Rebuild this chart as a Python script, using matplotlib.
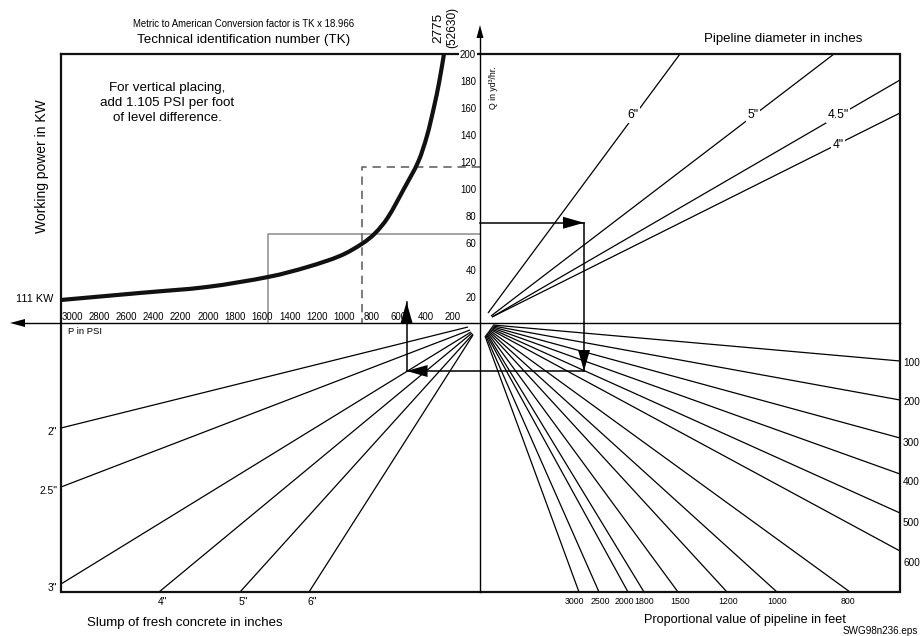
import numpy as np
import matplotlib
matplotlib.use("Agg")
import matplotlib.pyplot as plt
from matplotlib.path import Path
from matplotlib.patches import PathPatch

plt.rcParams["font.family"] = ["Liberation Sans", "DejaVu Sans"]

# ---------------------------------------------------------------- data
# Pressure scale (upper-left quadrant, horizontal)
p_ticks = [3000, 2800, 2600, 2400, 2200, 2000, 1800, 1600, 1400, 1200, 1000, 800, 600, 400, 200]
# Output scale (vertical)
q_ticks = [20, 40, 60, 80, 100, 120, 140, 160, 180, 200]

# Working-power curve (P in PSI, Q in yd3/hr)
curve_p = [3080, 2500, 2010, 1560, 1270, 1030, 870, 770, 675, 560, 455, 390, 340, 300, 265]
curve_q = [17.8, 23.0, 27.4, 34.8, 42.2, 50.4, 59.3, 67.4, 79.3, 100.0, 120.0, 139.3, 160.0, 179.3, 200.0]

# Reading guides in the power quadrant
guide_solid = (1560, 67)    # (P, Q)
guide_dashed = (868, 116)   # (P, Q)

# Worked example path: Q in, length, slump, P out
example_q = 75
example_p = 540

# Pipeline diameter lines (upper-right quadrant)
diam_labels = ['6"', '5"', '4.5"', '4"']
diam_start = [(488, 313), (491, 316), (492, 317), (492, 317)]
diam_end = [(680, 54), (834, 54), (900, 80), (900, 113)]
diam_label_pos = [(633, 115), (753, 115), (838, 115), (838, 145)]

# Pipeline length lines (lower-right quadrant)
len_right = [100, 200, 300, 400, 500, 600]
len_right_end_y = [361, 400, 438, 474, 513, 551]
len_right_label_y = [363, 402, 443, 482, 523, 563]
len_bottom = [800, 1000, 1200, 1500, 1800, 2000, 2500, 3000]
len_bottom_end_x = [850, 777, 727, 678, 644, 628, 599, 579]
len_bottom_label_x = [848, 777, 728, 680, 644, 624, 600, 574]

# Slump lines (lower-left quadrant)
slump_left = ['2"', '2.5"', '3"']
slump_left_end_y = [428, 487, 584]
slump_bottom = ['4"', '5"', '6"']
slump_bottom_end_x = [159, 240, 309]
slump_start = [(468, 327), (470, 330), (471, 332), (472, 333), (473, 334), (473, 335)]

# ---------------------------------------------------------------- layout
X0, X1, Y0, Y1 = 61, 900, 54, 592      # frame
AX_X, AX_Y = 480, 323                  # nomogram axes


def p_to_x(p):
    return AX_X - 0.136 * np.asarray(p, dtype=float)


def q_to_y(q):
    return 324 - 1.35 * np.asarray(q, dtype=float)


def smooth_path(xs, ys):
    """Catmull-Rom curve through the given points as cubic Bezier segments."""
    pts = np.column_stack([xs, ys])
    ext = np.vstack([pts[0], pts, pts[-1]])
    verts = [pts[0]]
    codes = [Path.MOVETO]
    for i in range(1, len(ext) - 2):
        p0, p1, p2, p3 = ext[i - 1], ext[i], ext[i + 1], ext[i + 2]
        verts += [p1 + (p2 - p0) / 6.0, p2 - (p3 - p1) / 6.0, p2]
        codes += [Path.CURVE4] * 3
    return Path(verts, codes)


fig = plt.figure(figsize=(9.24, 6.36), dpi=100)
ax = fig.add_axes([0, 0, 1, 1])
ax.set_xlim(0, 924)
ax.set_ylim(636, 0)
ax.axis("off")

FAN = dict(color="black", lw=0.9, solid_capstyle="butt")

# frame
ax.plot([X0, X1, X1, X0, X0], [Y0, Y0, Y1, Y1, Y0], color="#111", lw=1.6,
        solid_joinstyle="miter", zorder=3)

# central axes with arrows
ax.plot([AX_X, AX_X], [Y1, 36], color="black", lw=1.0, zorder=3)
ax.arrow(AX_X, 40, 0, -15, width=0.01, head_width=7, head_length=13,
         length_includes_head=True, color="black", lw=0, zorder=3)
ax.plot([X1, 22], [AX_Y, AX_Y], color="black", lw=1.0, zorder=3)
ax.arrow(26, AX_Y, -16, 0, width=0.01, head_width=8, head_length=15,
         length_includes_head=True, color="black", lw=0, zorder=3)

# P tick labels
for p in p_ticks:
    ax.text(p_to_x(p), 317, str(p), ha="center", va="center",
            fontsize=6.9, zorder=4)
ax.text(68, 331, "P in PSI", ha="left", va="center", fontsize=6.8)

# Q tick labels
for q in q_ticks:
    kw = {}
    if q == 200:
        kw["bbox"] = dict(boxstyle="square,pad=0.1", fc="white", ec="none")
    ax.text(476, q_to_y(q) + 1, str(q), ha="right", va="center",
            fontsize=6.9, zorder=5, **kw)
ax.text(493, 88, "Q in yd³/hr.", rotation=90, ha="center", va="center", fontsize=6.3)

# power curve
ax.add_patch(PathPatch(smooth_path(p_to_x(curve_p), q_to_y(curve_q)),
                       fc="none", ec="#111", lw=3.0, capstyle="butt", zorder=4))

# reading guides
gx, gy = p_to_x(guide_solid[0]), q_to_y(guide_solid[1])
ax.plot([AX_X, gx, gx], [gy, gy, AX_Y], color="#8c8c8c", lw=1.1, zorder=2)
dx, dy = p_to_x(guide_dashed[0]), q_to_y(guide_dashed[1])
ax.plot([AX_X, dx, dx], [dy, dy, AX_Y], color="#666", lw=1.2,
        dashes=(5, 3.5), zorder=2)

# diameter fan
for lab, s, e, lp in zip(diam_labels, diam_start, diam_end, diam_label_pos):
    ax.plot([s[0], e[0]], [s[1], e[1]], **FAN)
    ax.text(lp[0], lp[1], lab, ha="center", va="center", fontsize=8.7,
            bbox=dict(boxstyle="square,pad=0.15", fc="white", ec="none"), zorder=4)

# length fan
n_len = len(len_right) + len(len_bottom)
sx = np.linspace(493, 485, n_len)
sy = np.linspace(325, 336, n_len)
for i, (v, ey, ly) in enumerate(zip(len_right, len_right_end_y, len_right_label_y)):
    ax.plot([sx[i], X1], [sy[i], ey], **FAN)
    ax.text(903, ly, str(v), ha="left", va="center", fontsize=7.2)
for j, (v, ex, lx) in enumerate(zip(len_bottom, len_bottom_end_x, len_bottom_label_x)):
    k = len(len_right) + j
    ax.plot([sx[k], ex], [sy[k], Y1], **FAN)
    ax.text(lx, 602, str(v), ha="center", va="center", fontsize=6.3)

# slump fan
for i, (lab, ey) in enumerate(zip(slump_left, slump_left_end_y)):
    s = slump_start[i]
    ax.plot([s[0], X0], [s[1], ey], **FAN)
    ax.text(57, ey + 4, lab, ha="right", va="center", fontsize=7.4)
for j, (lab, ex) in enumerate(zip(slump_bottom, slump_bottom_end_x)):
    s = slump_start[len(slump_left) + j]
    ax.plot([s[0], ex], [s[1], Y1], **FAN)
    ax.text(ex + 3, 602, lab, ha="center", va="center", fontsize=7.4)

# worked example path with arrow heads at the end of each leg
qy = float(q_to_y(example_q))
px = float(p_to_x(example_p))
turn_x, turn_y, end_y = 584, 371, 302
path = [(AX_X, qy), (turn_x, qy), (turn_x, turn_y), (px, turn_y), (px, end_y)]
HEAD = 21
for (x0, y0), (x1, y1) in zip(path[:-1], path[1:]):
    ax.plot([x0, x1], [y0, y1], color="black", lw=1.1, zorder=3)
    L = np.hypot(x1 - x0, y1 - y0)
    ux, uy = (x1 - x0) / L, (y1 - y0) / L
    ax.arrow(x1 - ux * HEAD, y1 - uy * HEAD, ux * HEAD, uy * HEAD, width=0.01,
             head_width=12, head_length=HEAD, length_includes_head=True,
             color="black", lw=0, zorder=4)

# titles and notes
ax.text(244, 24, "Metric to American Conversion factor is TK x 18.966",
        ha="center", va="center", fontsize=6.9)
ax.text(244, 40, "Technical identification number (TK)", ha="center", va="center",
        fontsize=9.6)
ax.text(438, 28, "2775", rotation=90, ha="center", va="center", fontsize=9.7)
ax.text(452, 27, "(52630)", rotation=90, ha="center", va="center", fontsize=8.6)
ax.text(167, 103, "For vertical placing,\nadd 1.105 PSI per foot\nof level difference.",
        ha="center", va="center", fontsize=9.6, linespacing=1.36)
ax.text(42, 166, "Working power in KW", rotation=90, ha="center", va="center",
        fontsize=10)
ax.text(53, 299, "111 KW", ha="right", va="center", fontsize=7.8)
ax.text(783, 39, "Pipeline diameter in inches", ha="center", va="center",
        fontsize=9.5)
ax.text(185, 623, "Slump of fresh concrete in inches", ha="center", va="center",
        fontsize=9.5)
ax.text(745, 620, "Proportional value of pipeline in feet", ha="center", va="center",
        fontsize=9.1)
ax.text(918, 631, "SWG98n236.eps", ha="right", va="center", fontsize=7.1)

fig.savefig("out.png", dpi=100)
